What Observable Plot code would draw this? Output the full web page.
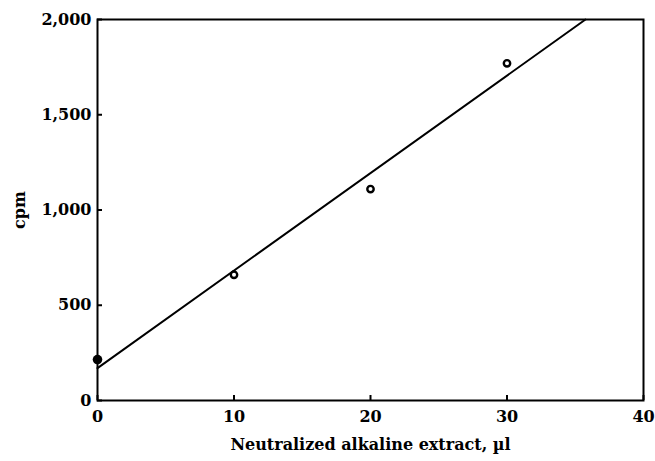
<!DOCTYPE html>
<html>
<head>
<meta charset="utf-8">
<script src="https://cdn.jsdelivr.net/npm/d3@7"></script>
<script src="https://cdn.jsdelivr.net/npm/@observablehq/plot@0.6"></script>
<style>
  html, body { margin: 0; padding: 0; background: #fff; }
  svg { display: block; }
</style>
</head>
<body>
<div id="chart"></div>
<script>
// Data
const volume = [10, 20, 30];            // µl, open markers
const cpm = [660, 1110, 1770];
const blankVolume = [0];                 // filled marker
const blankCpm = [215];
const fitVolume = [0, 35.75];            // fitted line end points
const fitCpm = [170, 2000];
const xTicks = [0, 10, 20, 30, 40];
const yTicks = [0, 500, 1000, 1500, 2000];

const open = volume.map((v, i) => ({x: v, y: cpm[i]}));
const filled = blankVolume.map((v, i) => ({x: v, y: blankCpm[i]}));
const fit = fitVolume.map((v, i) => ({x: v, y: fitCpm[i]}));

const font = "'DejaVu Serif', 'Liberation Serif', serif";

const chart = Plot.plot({
  width: 655,
  height: 461,
  marginLeft: 97,
  marginRight: 12,
  marginTop: 19,
  marginBottom: 61,
  style: {fontFamily: font, fontWeight: "bold", fontSize: "16px", color: "#000", background: "#fff"},
  x: {domain: [0, 40]},
  y: {domain: [0, 2000]},
  marks: [
    Plot.frame({stroke: "#000", strokeWidth: 2}),
    Plot.axisX({ticks: xTicks, tickSize: -5, tickPadding: 15, tickFormat: d3.format("d"), fontSize: 16,
      label: "Neutralized alkaline extract, µl", labelAnchor: "center", labelOffset: 49, labelArrow: "none",
      stroke: "#000", strokeWidth: 2}),
    Plot.axisY({ticks: yTicks, tickSize: -5, tickPadding: 11, tickFormat: d3.format(","), fontSize: 16,
      label: "cpm", labelAnchor: "center", labelOffset: 84, labelArrow: "none",
      stroke: "#000", strokeWidth: 2}),
    Plot.line(fit, {x: "x", y: "y", stroke: "#000", strokeWidth: 2}),
    Plot.dot(filled, {x: "x", y: "y", r: 4.8, fill: "#000", stroke: "none"}),
    Plot.dot(open, {x: "x", y: "y", r: 3.2, fill: "#fff", stroke: "#000", strokeWidth: 2.4})
  ]
});
document.getElementById("chart").appendChild(chart);
</script>
</body>
</html>
